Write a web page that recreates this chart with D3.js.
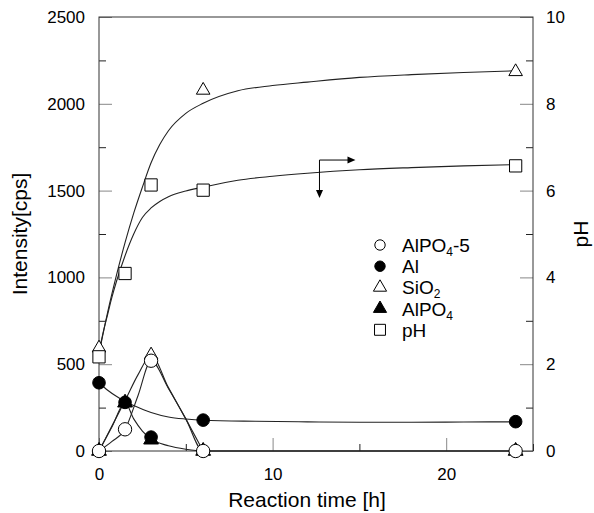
<!DOCTYPE html>
<html>
<head>
<meta charset="utf-8">
<script src="https://cdn.jsdelivr.net/npm/d3@7"></script>
<style>
  body { margin: 0; background: #fff; }
  text { font-family: "Liberation Sans", Arial, Helvetica, sans-serif; fill: #000; }
</style>
</head>
<body>
<div id="chart"></div>
<script>
// measured points (reaction time in h)
let times = [0, 1.5, 3, 6, 24]
let alpo45 = [0, 125, 520, 0, 0]
let al = [393, 280, 80, 178, 169]
let sio2 = [593, null, 553, 2078, 2185]
let alpo4 = [0, 278, 65, 0, 0]
let ph = [2.17, 4.09, 6.13, 6.01, 6.57]

// fitted curves
let sio2FitT = [0, 0.5, 1, 1.5, 2, 2.5, 3, 3.5, 4, 5, 6, 8, 10, 12, 15, 18, 21, 24]
let sio2FitV = [560, 800, 1010, 1200, 1370, 1520, 1660, 1765, 1845, 1945, 2003, 2075, 2105, 2125, 2152, 2168, 2180, 2190]
let phFitT = [0, 0.25, 0.5, 0.75, 1, 1.5, 2, 2.5, 3, 3.5, 4, 5, 6, 8, 10, 12, 15, 18, 21, 24]
let phFitV = [2.28, 2.75, 3.15, 3.55, 3.9, 4.5, 5.0, 5.38, 5.6, 5.75, 5.86, 5.99, 6.08, 6.24, 6.33, 6.4, 6.48, 6.53, 6.57, 6.6]
let alFitT = [0, 0.5, 1, 1.5, 2, 3, 4, 5, 6, 9, 12, 15, 18, 21, 24]
let alFitV = [393, 350, 315, 285, 262, 222, 196, 184, 177, 171, 168, 166, 166, 167, 168]
let alpo45FitT = [0, 0.75, 1.5, 2.25, 3, 4, 5, 6, 24]
let alpo45FitV = [0, 55, 125, 320, 520, 360, 185, 0, 0]
let peakFitT = [0, 0.75, 1.5, 2.25, 3, 4, 5, 6]
let peakFitV = [0, 145, 290, 440, 550, 365, 185, 0]
let alpo4FitT = [0, 0.75, 1.5, 2, 2.5, 3, 4, 5, 6, 24]
let alpo4FitV = [0, 140, 278, 185, 115, 70, 30, 10, 0, 0]

let xTicks = [0, 10, 20]
let xMinor = [5, 15, 25]
let yTicks = [0, 500, 1000, 1500, 2000, 2500]
let yMinor = [250, 750, 1250, 1750, 2250]
let phTicks = [0, 2, 4, 6, 8, 10]
let phMinor = [1, 3, 5, 7, 9]

// arrow annotation anchor (data units)
let arrowT = 12.7
let arrowV = 1676

let margin = {top: 17, right: 61, bottom: 62, left: 99}
let width = 594 - margin.left - margin.right
let height = 513 - margin.top - margin.bottom

let svg = d3.select('#chart')
  .append('svg')
  .attr('width', 594)
  .attr('height', 513)

let g = svg.append('g')
  .attr('transform', `translate(${margin.left},${margin.top})`)

let x = d3.scaleLinear().domain([0, 25]).range([0, width])
let y = d3.scaleLinear().domain([0, 2500]).range([height, 0])
let yR = d3.scaleLinear().domain([0, 10]).range([height, 0])

function styleAxis(sel, color) {
  sel.select('.domain').remove()
  sel.selectAll('.tick line').attr('stroke', color).attr('stroke-width', 1)
  sel.selectAll('.tick text')
    .attr('font-size', 17)
    .attr('font-family', '"Liberation Sans", Arial, sans-serif')
    .attr('fill', '#000')
}

// minor ticks
g.append('g').attr('transform', `translate(0,${height})`)
  .call(d3.axisBottom(x).tickValues(xMinor).tickSize(-7).tickFormat(''))
  .call(s => styleAxis(s, '#222'))
g.append('g')
  .call(d3.axisLeft(y).tickValues(yMinor).tickSize(-7).tickFormat(''))
  .call(s => styleAxis(s, '#222'))
g.append('g').attr('transform', `translate(${width},0)`)
  .call(d3.axisRight(yR).tickValues(phMinor).tickSize(-7).tickFormat(''))
  .call(s => styleAxis(s, '#222'))

// major ticks
g.append('g').attr('transform', `translate(0,${height})`)
  .call(d3.axisBottom(x).tickValues(xTicks).tickSize(-13).tickPadding(17).tickFormat(d3.format('d')))
  .call(s => styleAxis(s, '#888'))
g.append('g')
  .call(d3.axisLeft(y).tickValues(yTicks).tickSize(-13).tickPadding(14).tickFormat(d3.format('d')))
  .call(s => styleAxis(s, '#888'))
g.append('g').attr('transform', `translate(${width},0)`)
  .call(d3.axisRight(yR).tickValues(phTicks).tickSize(-13).tickPadding(13).tickFormat(d3.format('d')))
  .call(s => styleAxis(s, '#888'))

g.append('rect')
  .attr('width', width)
  .attr('height', height)
  .attr('fill', 'none')
  .attr('stroke', '#333')
  .attr('stroke-width', 1)

// fitted lines
let curves = [
  {t: sio2FitT, v: sio2FitV, scale: y},
  {t: phFitT, v: phFitV, scale: yR},
  {t: alFitT, v: alFitV, scale: y},
  {t: alpo45FitT, v: alpo45FitV, scale: y},
  {t: peakFitT, v: peakFitV, scale: y},
  {t: alpo4FitT, v: alpo4FitV, scale: y}
]

g.selectAll('path.fit')
  .data(curves)
  .join('path')
  .attr('class', 'fit')
  .attr('fill', 'none')
  .attr('stroke', '#222')
  .attr('stroke-width', 1.1)
  .attr('d', c => d3.line()
    .x(d => x(d[0]))
    .y(d => c.scale(d[1]))
    .curve(d3.curveMonotoneX)(d3.zip(c.t, c.v)))

// markers (drawing order matters where points overlap)
let series = [
  {name: 'SiO2', values: sio2, scale: y, type: d3.symbolTriangle, size: 80, fill: '#fff'},
  {name: 'Al', values: al, scale: y, type: d3.symbolCircle, size: 125, fill: '#000'},
  {name: 'AlPO4', values: alpo4, scale: y, type: d3.symbolTriangle, size: 95, fill: '#000'},
  {name: 'AlPO4-5', values: alpo45, scale: y, type: d3.symbolCircle, size: 140, fill: '#fff'},
  {name: 'pH', values: ph, scale: yR, type: d3.symbolSquare, size: 150, fill: '#fff'}
]

series.forEach(s => {
  let pts = d3.zip(times, s.values).filter(d => d[1] != null)
  g.append('g').selectAll('path')
    .data(pts)
    .join('path')
    .attr('d', d3.symbol().type(s.type).size(s.size))
    .attr('transform', d => `translate(${x(d[0])},${s.scale(d[1])})`)
    .attr('fill', s.fill)
    .attr('stroke', '#000')
    .attr('stroke-width', 1)
})

// arrows: right -> pH axis, down -> intensity
let ax = x(arrowT), ay = y(arrowV)
let arrow = g.append('g')
arrow.append('line').attr('x1', ax).attr('y1', ay).attr('x2', ax + 29).attr('y2', ay)
  .attr('stroke', '#000').attr('stroke-width', 1)
arrow.append('path').attr('d', `M${ax + 28},${ay - 3.5}L${ax + 36},${ay}L${ax + 28},${ay + 3.5}Z`)
arrow.append('line').attr('x1', ax).attr('y1', ay).attr('x2', ax).attr('y2', ay + 31)
  .attr('stroke', '#000').attr('stroke-width', 1)
arrow.append('path').attr('d', `M${ax - 3.5},${ay + 30}L${ax},${ay + 38}L${ax + 3.5},${ay + 30}Z`)

// legend
let legendItems = [
  {label: ['AlPO', '4', '-5'], type: d3.symbolCircle, size: 85, fill: '#fff'},
  {label: ['Al'], type: d3.symbolCircle, size: 85, fill: '#000'},
  {label: ['SiO', '2'], type: d3.symbolTriangle, size: 75, fill: '#fff'},
  {label: ['AlPO', '4'], type: d3.symbolTriangle, size: 75, fill: '#000'},
  {label: ['pH'], type: d3.symbolSquare, size: 120, fill: '#fff'}
]

let legend = svg.append('g').attr('transform', 'translate(380,245)')
let rows = legend.selectAll('g')
  .data(legendItems)
  .join('g')
  .attr('transform', (d, i) => `translate(0,${i * 21.2})`)

rows.append('path')
  .attr('d', d => d3.symbol().type(d.type).size(d.size)())
  .attr('fill', d => d.fill)
  .attr('stroke', '#000')
  .attr('stroke-width', 1)

rows.append('text')
  .attr('x', 22)
  .attr('y', 7)
  .attr('font-size', 19)
  .each(function(d) {
    let t = d3.select(this)
    t.append('tspan').text(d.label[0])
    if (d.label[1]) t.append('tspan').attr('font-size', 12).attr('dy', 4).text(d.label[1])
    if (d.label[2]) t.append('tspan').attr('dy', -4).text(d.label[2])
  })

// axis titles
svg.append('text')
  .attr('transform', 'translate(27,234) rotate(-90)')
  .attr('text-anchor', 'middle')
  .attr('font-size', 21)
  .text('Intensity[cps]')

svg.append('text')
  .attr('transform', 'translate(588,234) rotate(-90)')
  .attr('text-anchor', 'middle')
  .attr('font-size', 21)
  .text('pH')

svg.append('text')
  .attr('x', 307)
  .attr('y', 507)
  .attr('text-anchor', 'middle')
  .attr('font-size', 21)
  .text('Reaction time [h]')
</script>
</body>
</html>
